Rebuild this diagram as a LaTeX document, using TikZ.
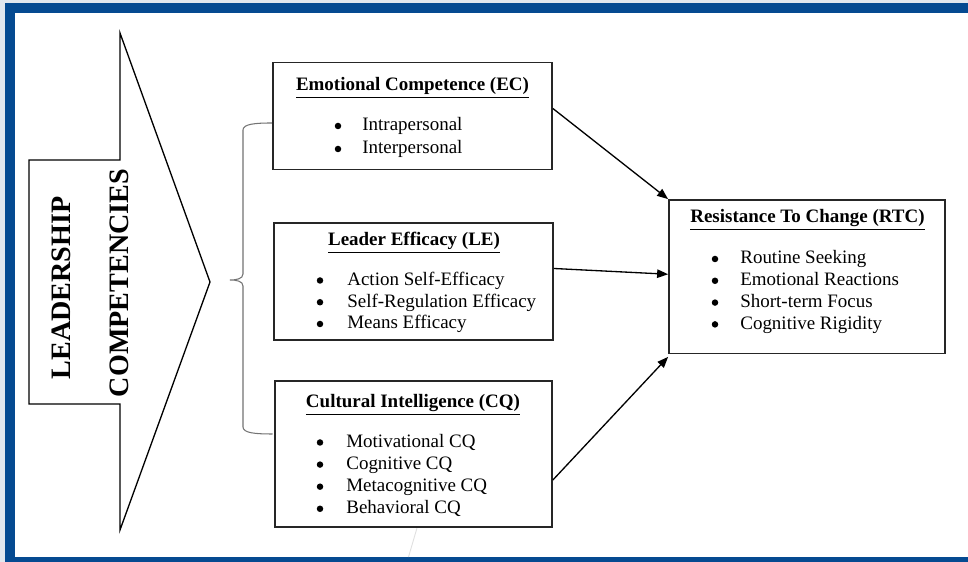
\documentclass[tikz,border=0pt]{standalone}
\usepackage{fontspec}
\setmainfont{Liberation Serif}
\usetikzlibrary{arrows.meta,positioning,calc}
\definecolor{frameblue}{RGB}{5,74,145}
\definecolor{edgegray}{RGB}{226,231,238}

\begin{document}
\begin{tikzpicture}[
  font=\fontsize{10.8}{12.6}\selectfont,
  >={Triangle[length=2.2mm,width=1.7mm]},
  card/.style={rectangle,draw=black!85,line width=1pt,fill=white,inner sep=0pt},
  head/.style={anchor=base,inner sep=0pt,font=\fontsize{10.8}{12.6}\selectfont\bfseries},
  item/.style={anchor=base west,inner sep=0pt},
  dot/.style={fill=black},
  bigarrow/.style={draw=black,line width=0.75pt,fill=white},
  banner/.style={font=\fontsize{16}{18}\selectfont\bfseries,rotate=90,inner sep=0pt},
  brace/.style={draw=black!55,line width=0.6pt},
  link/.style={->,line width=0.75pt,draw=black},
]

%% ----------------------------------------------------------------- frame
\useasboundingbox (0,0) rectangle (19.36,11.24);
\fill[edgegray] (0,0) rectangle (19.36,11.24);
\fill[frameblue] (0.10,0) rectangle (19.36,11.18);
\fill[white] (0.30,0.09) rectangle (19.36,10.98);
\draw[black!12,line width=0.5pt] (8.34,0.68) -- (8.17,0.10);

%% ------------------------------------------------------------ big arrow
\draw[bigarrow] (0.58,8.04) -- (2.40,8.04) -- (2.40,10.58) -- (4.20,5.60)
  -- (2.40,0.64) -- (2.40,3.16) -- (0.58,3.16) -- cycle;
\node[banner] (lead) at (1.22,5.48) {LEADERSHIP};
\node[banner] (comp) at (2.38,5.58) {COMPETENCIES};

%% ---------------------------------------------------------------- brace
\draw[brace] (5.45,8.78) .. controls (5.10,8.78) and (4.86,8.76) .. (4.86,8.64)
  -- (4.86,5.76) .. controls (4.86,5.66) and (4.72,5.64) .. (4.60,5.64)
  .. controls (4.72,5.64) and (4.86,5.62) .. (4.86,5.52)
  -- (4.86,2.70) .. controls (4.86,2.58) and (5.10,2.56) .. (5.45,2.56);

%% --------------------------------------------------------- emotional
\node[card,minimum width=5.58cm,minimum height=2.14cm] (ec) at (8.25,8.92) {};
\node[head] (ectitle) at (8.25,9.42) {\underline{Emotional Competence (EC)}};
\foreach \txt [count=\k] in {Intrapersonal,Interpersonal}{
  \node[item] (ec-\k) at (7.24,{8.62-0.46*(\k-1)}) {\txt};
  \fill[dot] ([xshift=-0.48cm,yshift=0.1cm]ec-\k.base west) circle (0.065);
}

%% ------------------------------------------------------------ efficacy
\node[card,minimum width=5.58cm,minimum height=2.35cm] (le) at (8.27,5.61) {};
\node[head] (letitle) at (8.28,6.32) {\underline{Leader Efficacy (LE)}};
\foreach \txt [count=\k] in {Action Self-Efficacy,Self-Regulation Efficacy,Means Efficacy}{
  \node[item] (le-\k) at (6.94,{5.53-0.435*(\k-1)}) {\txt};
  \fill[dot] ([xshift=-0.54cm,yshift=0.1cm]le-\k.base west) circle (0.065);
}

%% ------------------------------------------------------------- culture
\node[card,minimum width=5.54cm,minimum height=2.92cm] (cq) at (8.27,2.16) {};
\node[head] (cqtitle) at (8.26,3.08) {\underline{Cultural Intelligence (CQ)}};
\foreach \txt [count=\k] in {Motivational CQ,Cognitive CQ,Metacognitive CQ,Behavioral CQ}{
  \node[item] (cq-\k) at (6.92,{2.29-0.442*(\k-1)}) {\txt};
  \fill[dot] ([xshift=-0.52cm,yshift=0.1cm]cq-\k.base west) circle (0.065);
}

%% --------------------------------------------------------- resistance
\node[card,minimum width=5.52cm,minimum height=3.07cm] (rtc) at (16.14,5.705) {};
\node[head] (rtctitle) at (16.15,6.78) {\underline{Resistance To Change (RTC)}};
\foreach \txt [count=\k] in {Routine Seeking,Emotional Reactions,Short-term Focus,Cognitive Rigidity}{
  \node[item] (rtc-\k) at (14.80,{5.96-0.436*(\k-1)}) {\txt};
  \fill[dot] ([xshift=-0.50cm,yshift=0.1cm]rtc-\k.base west) circle (0.065);
}

%% --------------------------------------------------------------- links
\draw[link] ([yshift=0.15cm]ec.east) -- (rtc.north west);
\draw[link] ([yshift=0.26cm]le.east) -- ([yshift=0.05cm]rtc.west);
\draw[link] ([yshift=-0.52cm]cq.east) -- ([yshift=-0.05cm]rtc.south west);

\end{tikzpicture}
\end{document}
